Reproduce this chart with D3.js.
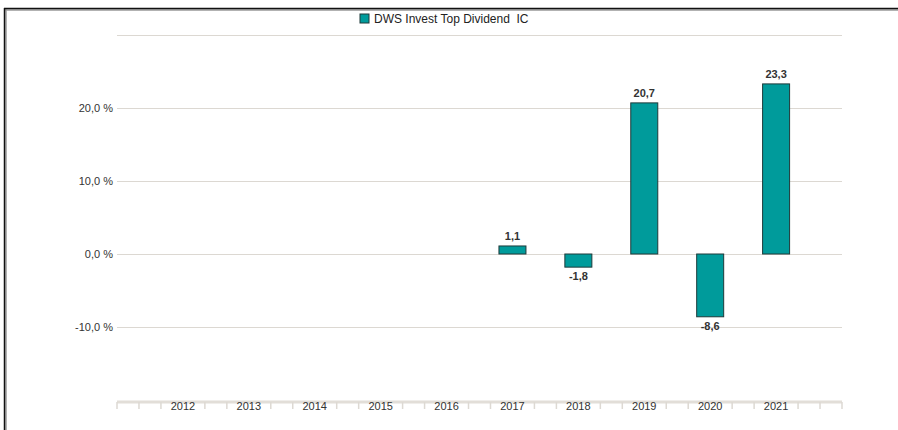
<!DOCTYPE html>
<html>
<head>
<meta charset="utf-8">
<script src="https://cdn.jsdelivr.net/npm/d3@7"></script>
<style>
	body { margin: 0; background: #fff; }
	svg { display: block; font-family: "Liberation Sans", Arial, sans-serif; }
</style>
</head>
<body>
<div id="chart"></div>
<script>
// data
const years = [2012, 2013, 2014, 2015, 2016, 2017, 2018, 2019, 2020, 2021];
const bar_years = [2017, 2018, 2019, 2020, 2021];
const bar_values = [1.1, -1.8, 20.7, -8.6, 23.3];
const y_ticks = [-10, 0, 10, 20];
const series_name = "DWS Invest Top Dividend  IC";

const width = 898, height = 430;
const margin = {top: 35, right: 56, bottom: 30, left: 117};
const fmt = d3.format(".1f");
const deNum = v => fmt(v).replace(".", ",").replace("\u2212", "-");

const svg = d3.select("#chart").append("svg")
	.attr("width", width)
	.attr("height", height);

// frame (top + left edge with soft shadow)
svg.append("line").attr("x1", 5).attr("x2", width).attr("y1", 10).attr("y2", 10)
	.attr("stroke", "#999").attr("stroke-width", 1.5);
svg.append("line").attr("x1", 6).attr("x2", 6).attr("y1", 9).attr("y2", height)
	.attr("stroke", "#999").attr("stroke-width", 1.5);
svg.append("line").attr("x1", 4).attr("x2", width).attr("y1", 8.5).attr("y2", 8.5)
	.attr("stroke", "#111").attr("stroke-width", 1.5);
svg.append("line").attr("x1", 4.5).attr("x2", 4.5).attr("y1", 8).attr("y2", height)
	.attr("stroke", "#111").attr("stroke-width", 1.5);

// scales
const x = d3.scaleLinear().domain([2011, 2022]).range([margin.left, width - margin.right]);
const y = d3.scaleLinear().domain([-20, 30]).range([400, margin.top]);
const barW = 27;

// gridlines
svg.append("g")
	.selectAll("line")
	.data([-10, 0, 10, 20, 30])
	.join("line")
		.attr("x1", x(2011)).attr("x2", x(2022))
		.attr("y1", d => y(d) + 0.5).attr("y2", d => y(d) + 0.5)
		.attr("stroke", "#dcd8d2").attr("stroke-width", 1);

// y labels
svg.append("g")
	.selectAll("text")
	.data(y_ticks)
	.join("text")
		.attr("x", x(2011) - 4)
		.attr("y", d => y(d) + 4)
		.attr("text-anchor", "end")
		.attr("font-size", 11)
		.attr("fill", "#333")
		.text(d => deNum(d) + " %");

// x axis line and minor ticks
const xAxisG = svg.append("g");
xAxisG.append("line")
	.attr("x1", x(2011)).attr("x2", x(2022))
	.attr("y1", 402).attr("y2", 402)
	.attr("stroke", "#e2ded8").attr("stroke-width", 3);
const minor = d3.range(0, 34).map(i => 2011 + i / 3).filter((d, i) => i % 3 != 0 || i == 0 || i == 33);
xAxisG.selectAll(".tick")
	.data(minor)
	.join("line")
		.attr("class", "tick")
		.attr("x1", d => x(d)).attr("x2", d => x(d))
		.attr("y1", 402).attr("y2", 409)
		.attr("stroke", "#ddd9d3").attr("stroke-width", 1.5);
xAxisG.selectAll("text")
	.data(years)
	.join("text")
		.attr("x", d => x(d))
		.attr("y", 410)
		.attr("text-anchor", "middle")
		.attr("font-size", 11)
		.attr("fill", "#333")
		.text(d => d);

// bars
const bars = bar_years.map((d, i) => ({year: d, value: bar_values[i]}));
svg.append("g")
	.selectAll("rect")
	.data(bars)
	.join("rect")
		.attr("x", d => x(d.year) - barW / 2)
		.attr("y", d => y(Math.max(0, d.value)))
		.attr("width", barW)
		.attr("height", d => Math.abs(y(d.value) - y(0)))
		.attr("fill", "#009b9b")
		.attr("stroke", "#1e3a3a")
		.attr("stroke-width", 1);

// value labels
svg.append("g")
	.selectAll("text")
	.data(bars)
	.join("text")
		.attr("x", d => x(d.year))
		.attr("y", d => d.value >= 0 ? y(d.value) - 6 : y(d.value) + 13)
		.attr("text-anchor", "middle")
		.attr("font-size", 11)
		.attr("font-weight", "bold")
		.attr("fill", "#333")
		.text(d => deNum(d.value));

// legend
const legend = svg.append("g").attr("transform", "translate(360,14)");
legend.append("rect")
	.attr("width", 9).attr("height", 9)
	.attr("fill", "#009b9b").attr("stroke", "#1e3a3a");
legend.append("text")
	.attr("x", 14).attr("y", 9)
	.attr("font-size", 12)
	.attr("fill", "#222")
	.style("white-space", "pre")
	.text(series_name);
</script>
</body>
</html>
